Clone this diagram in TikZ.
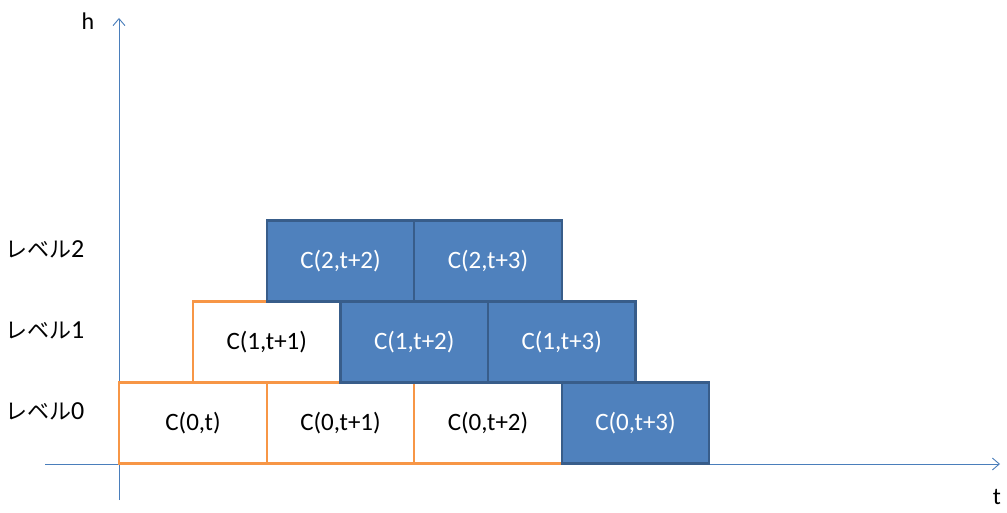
\documentclass[tikz,border=0pt]{standalone}
\usepackage{fontspec}
\setmainfont{Carlito}
\newfontfamily\cjk{Noto Sans CJK JP}
\usetikzlibrary{arrows.meta,positioning}
\definecolor{cellblue}{HTML}{4F81BD}
\definecolor{cellline}{HTML}{385D8A}
\definecolor{cellorange}{HTML}{F79646}
\definecolor{axisblue}{HTML}{4A7EBB}

\begin{document}
\begin{tikzpicture}[x=1pt,y=-1pt,
  axis/.style={draw=axisblue,line width=0.9pt,-{Straight Barb[length=7pt,width=12pt]}},
  cell/.style={line width=2.2pt,minimum width=147.5pt,minimum height=81pt,
    inner sep=0pt,outer sep=0pt,font=\fontsize{25}{30}\selectfont},
  done/.style={cell,draw=cellorange,fill=white},
  todo/.style={cell,draw=cellline,fill=cellblue,text=white},
  lvl/.style={anchor=west,inner sep=0pt,font=\fontsize{26}{30}\selectfont}]
\useasboundingbox (0,0) rectangle (1007,513);
% axis ends
\coordinate (tL) at (45,464);
\coordinate (tR) at (1000,464);
\coordinate (hB) at (119,500);
\coordinate (hT) at (119,18);
\draw[axis] (tL) -- (tR);
\draw[axis] (hB) -- (hT);
\node[font=\fontsize{24}{28}\selectfont] (hlabel) at (88,21) {h};
\node[font=\fontsize{24}{28}\selectfont] (tlabel) at (997,497) {t};
% level labels
\node[lvl] (lv2) at (5,249) {{\cjk\fontsize{22}{27}\selectfont レベル}2};
\node[lvl] (lv1) at (5,330) {{\cjk\fontsize{22}{27}\selectfont レベル}1};
\node[lvl] (lv0) at (5,411) {{\cjk\fontsize{22}{27}\selectfont レベル}0};
% finished cells
\node[done] (c00) at (193,423) {C(0,t)};
\node[done,right=0pt of c00] (c01) {C(0,t+1)};
\node[done,right=0pt of c01] (c02) {C(0,t+2)};
\node[done,above=0pt of c00.north east] (c11) {C(1,t+1)};
% remaining cells
\node[todo,right=0pt of c02] (c03) {C(0,t+3)};
\node[todo,right=0pt of c11] (c12) {C(1,t+2)};
\node[todo,right=0pt of c12] (c13) {C(1,t+3)};
\node[todo,above=0pt of c11.north east] (c22) {C(2,t+2)};
\node[todo,right=0pt of c22] (c23) {C(2,t+3)};
\end{tikzpicture}
\end{document}
